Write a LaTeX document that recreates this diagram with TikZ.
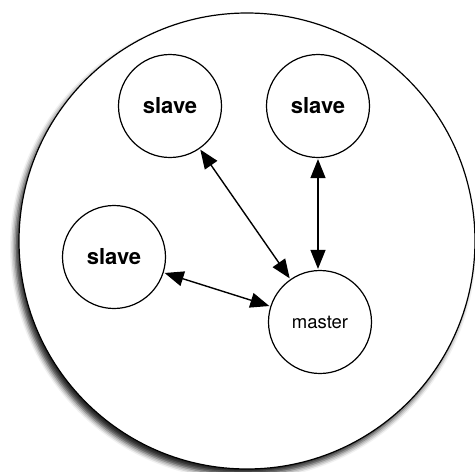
\documentclass[tikz,border=0pt]{standalone}
\usepackage{fontspec}
\setmainfont{TeX Gyre Heros}
\usetikzlibrary{arrows.meta,shadows.blur}
\tikzset{
  nodecirc/.style={circle, draw=black, line width=1.2pt, minimum size=103pt, inner sep=0pt, fill=white},
  slavetext/.style={font=\fontsize{22}{24}\selectfont\bfseries},
  mastertext/.style={font=\fontsize{18.5}{20}\selectfont},
  link/.style={line width=1.4pt, {Triangle[length=19pt,width=15pt]}-{Triangle[length=19pt,width=15pt]}, shorten <=1pt, shorten >=1pt}
}
\begin{document}
\begin{tikzpicture}[x=1pt,y=-1pt]
\useasboundingbox (0,0) rectangle (475,472);
\node[circle, draw=black, line width=1.2pt, minimum size=456pt, inner sep=0pt, fill=white,
  blur shadow={shadow xshift=-4pt, shadow yshift=-6pt, shadow blur radius=5pt, shadow opacity=85}] (outer) at (247,241) {};
\node[nodecirc, slavetext] (s1) at (170,106) {slave};
\node[nodecirc, slavetext] (s2) at (318,106) {slave};
\node[nodecirc, slavetext] (s3) at (114,257) {slave};
\node[nodecirc, mastertext] (m) at (320,322) {master};
\draw[link] (s1) -- (m);
\draw[link] (s2.south) -- (s2.south |- m.north);
\draw[link] (s3) -- (m);
\end{tikzpicture}
\end{document}
